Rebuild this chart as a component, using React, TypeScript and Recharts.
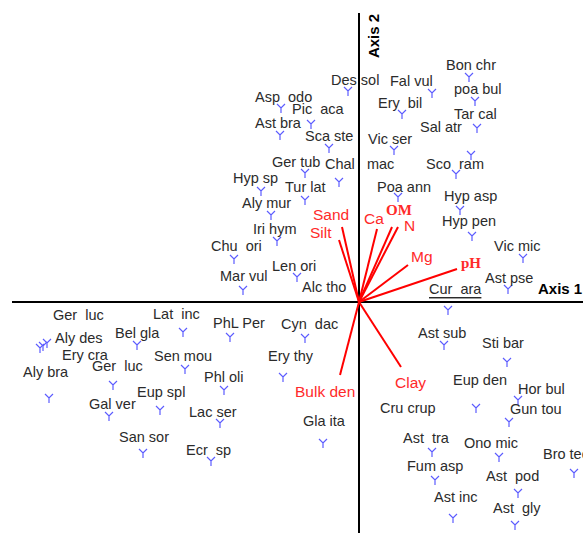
import React from "react";
import { ScatterChart, Scatter, XAxis, YAxis, ReferenceLine } from "recharts";

// CCA biplot: species scores (Y markers) + environmental vectors (red)
// units are axis scores scaled x100

const SPECIES = [
  "Asp  odo", "Pic  aca", "Ast bra", "Ger tub", "Hyp sp", "Tur lat", "Des sol", "Fal vul",
  "Bon chr", "poa bul", "Ery  bil", "Tar cal", "Sal atr", "Sca ste", "Vic ser", "Sco  ram",
  "Chal   mac", "Poa ann", "Hyp asp", "Hyp pen", "Vic mic", "Ast pse", "Cur  ara", "Alc tho",
  "Len ori", "Aly mur", "Iri hym", "Chu  ori", "Mar vul", "Ger  luc", "Lat  inc", "PhL Per",
  "Cyn  dac", "Bel gla", "Aly des", "Ery cra", "Ger  luc", "Sen mou", "Aly bra", "Phl oli",
  "Ery thy", "Eup spl", "Gal ver", "Lac ser", "San sor", "Ecr  sp", "Gla ita", "Ast sub",
  "Sti bar", "Eup den", "Hor bul", "Gun tou", "Cru crup", "Ast  tra", "Ono mic", "Bro tec",
  "Fum asp", "Ast  pod", "Ast inc", "Ast  gly",
];

const SPECIES_X = [
  -78, -48, -79, -54, -98, -54, -11, 73,
  110, 116, 43, 118, 112, -30, 35, 97,
  -20, 39, 101, 113, 164, 149, 89, null,
  -62, -88, -82, -125, -116, -316, -176, -129,
  -54, -222, -312, -319, -246, -174, -310, -135,
  -76, -199, -250, -139, -216, -148, -36, 85,
  148, 117, 159, 150, null, 73, 140, 215,
  76, 159, 94, 156,
];

const SPECIES_Y = [
  194, 178, 167, 129, 111, 102, 211, 209,
  225, 201, 188, 174, 147, 154, 152, 128,
  120, 105, 92, 66, 44, 13, -8, null,
  25, 87, 61, 43, 12, -44, -30, -35,
  -36, -43, -41, -46, -83, -67, -96, -88,
  -75, -108, -114, -121, -151, -159, -141, -43,
  -60, -106, -98, -120, null, -150, -155, -171,
  -178, -191, -216, -223,
];

const LABEL_X = [
  -104, -67, -104, -87, -126, -74, -28, 31,
  87, 95, 19, 95, 61, -54, 9, 67,
  -34, 18, 85, 83, 135, 126, 70, -57,
  -87, -117, -106, -148, -139, -306, -206, -146,
  -78, -244, -304, -297, -267, -205, -336, -155,
  -91, -222, -270, -170, -240, -173, -56, 59,
  123, 94, 159, 151, 21, 44, 105, 184,
  48, 127, 75, 134,
];

const LABEL_Y = [
  205, 193, 179, 140, 124, 115, 222, 221,
  237, 213, 199, 188, 175, 166, 163, 138,
  138, 115, 106, 81, 56, 24, 13, 15,
  36, 99, 73, 56, 26, -13, -12, -21,
  -22, -31, -36, -53, -64, -54, -70, -75,
  -54, -90, -102, -110, -135, -148, -119, -31,
  -41, -78, -87, -107, -106, -136, -141, -152,
  -164, -174, -195, -206,
];

const ENV_NAMES = ["Sand", "Silt", "Ca", "OM", "N", "Mg", "pH", "Bulk den", "Clay"];
const ENV_X = [-17, -20, 18, 33, 39, 49, 98, -19, 42];
const ENV_Y = [75, 62, 73, 75, 75, 37, 33, -73, -65];
const ENV_LABEL_X = [-46, -49, 5, 27, 45, 52, 102, -64, 36];
const ENV_LABEL_Y = [88, 70, 84, 92, 77, 46, 39, -89, -80];
const SERIF_ENV = ["OM", "pH"];

const AXIS_TITLES = ["Axis 2", "Axis 1"];
const AXIS_TITLE_X = [14, 179];
const AXIS_TITLE_Y = [266, 14];

const X_DOMAIN = [-359, 224];
const Y_DOMAIN = [-231, 302];

const markerData = SPECIES.map((name, i) => ({ name, x: SPECIES_X[i], y: SPECIES_Y[i] })).filter(
  (d) => d.x !== null
);
const labelData = SPECIES.map((name, i) => ({ name, x: LABEL_X[i], y: LABEL_Y[i] }));
const envLabelData = ENV_NAMES.map((name, i) => ({ name, x: ENV_LABEL_X[i], y: ENV_LABEL_Y[i] }));
const axisTitleData = AXIS_TITLES.map((name, i) => ({ name, x: AXIS_TITLE_X[i], y: AXIS_TITLE_Y[i] }));

const SANS = "'Liberation Sans', Arial, sans-serif";
const SERIF = "'Liberation Serif', 'Times New Roman', serif";

function YMarker(props: any) {
  const { cx, cy } = props;
  return (
    <path
      d={`M${cx - 4},${cy - 4} L${cx},${cy} L${cx + 4},${cy - 4} M${cx},${cy} L${cx},${cy + 5}`}
      stroke="#5c5cff"
      strokeWidth={1.2}
      fill="none"
    />
  );
}

function SpeciesLabel(props: any) {
  const { cx, cy, payload } = props;
  return (
    <text
      x={cx}
      y={cy}
      dominantBaseline="central"
      fontFamily={SANS}
      fontSize={14.5}
      fill="#2b2b2b"
      style={{ whiteSpace: "pre", textDecoration: payload.name === "Cur  ara" ? "underline" : "none" }}
    >
      {payload.name}
    </text>
  );
}

function EnvLabel(props: any) {
  const { cx, cy, payload } = props;
  const serif = SERIF_ENV.includes(payload.name);
  return (
    <text
      x={cx}
      y={cy}
      dominantBaseline="central"
      fontFamily={serif ? SERIF : SANS}
      fontWeight={serif ? "bold" : "normal"}
      fontSize={serif ? 15 : 15.5}
      fill="#ff2a2a"
    >
      {payload.name}
    </text>
  );
}

function AxisTitle(props: any) {
  const { cx, cy, payload } = props;
  if (payload.name === "Axis 2") {
    return (
      <text
        x={cx}
        y={cy}
        transform={`rotate(-90 ${cx} ${cy})`}
        textAnchor="middle"
        dominantBaseline="central"
        fontFamily={SANS}
        fontWeight="bold"
        fontSize={15}
        fill="#000"
      >
        {payload.name}
      </text>
    );
  }
  return (
    <text x={cx} y={cy} dominantBaseline="central" fontFamily={SANS} fontWeight="bold" fontSize={15} fill="#000">
      {payload.name}
    </text>
  );
}

export default function App() {
  return (
    <div style={{ position: "absolute", left: 0, top: 0, width: 583, height: 533, background: "#fff" }}>
      <ScatterChart width={583} height={533} margin={{ top: 0, right: 0, bottom: 0, left: 0 }}>
        <XAxis type="number" dataKey="x" domain={X_DOMAIN} allowDataOverflow hide />
        <YAxis type="number" dataKey="y" domain={Y_DOMAIN} allowDataOverflow hide />
        <ReferenceLine
          segment={[{ x: 0, y: Y_DOMAIN[1] - 13 }, { x: 0, y: Y_DOMAIN[0] }]}
          stroke="#000"
          strokeWidth={2}
        />
        <ReferenceLine
          segment={[{ x: X_DOMAIN[0] + 12, y: 0 }, { x: X_DOMAIN[1], y: 0 }]}
          stroke="#000"
          strokeWidth={2}
        />
        {ENV_NAMES.map((name, i) => (
          <ReferenceLine
            key={name}
            segment={[{ x: 0, y: 0 }, { x: ENV_X[i], y: ENV_Y[i] }]}
            stroke="#ff0000"
            strokeWidth={2}
          />
        ))}
        <Scatter data={markerData} shape={YMarker} isAnimationActive={false} />
        <Scatter data={labelData} shape={SpeciesLabel} isAnimationActive={false} />
        <Scatter data={envLabelData} shape={EnvLabel} isAnimationActive={false} />
        <Scatter data={axisTitleData} shape={AxisTitle} isAnimationActive={false} />
      </ScatterChart>
    </div>
  );
}
